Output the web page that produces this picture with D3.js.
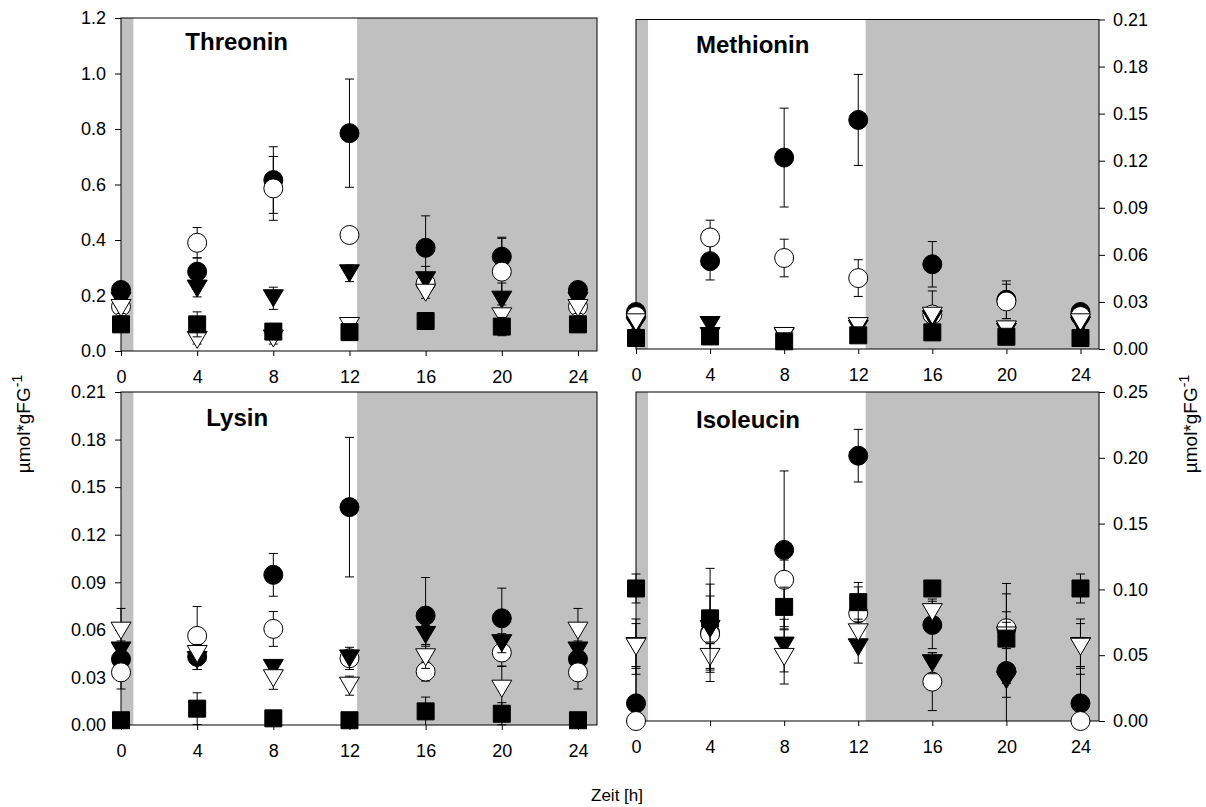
<!DOCTYPE html>
<html>
<head>
<meta charset="utf-8">
<script src="https://cdn.jsdelivr.net/npm/d3@7"></script>
<style>
  body { margin: 0; background: #fff; }
  svg text { font-family: "Liberation Sans", Arial, sans-serif; fill: #000; }
</style>
</head>
<body>
<svg id="chart" width="1206" height="807"></svg>
<script>
// Sampling times (h) and the dark phases of the light/dark cycle
const hours = [0, 4, 8, 12, 16, 20, 24];
const hourTicks = [0, 4, 8, 12, 16, 20, 24];
const darkPhases = [[0, 0.65], [12.4, 25]];

// Threonin (µmol*gFG-1): mean and standard deviation per series
const thrFilledCircle   = [0.220, 0.286, 0.616, 0.785, 0.372, 0.340, 0.220];
const thrFilledCircleSd = [0.025, 0.050, 0.120, 0.195, 0.115, 0.070, 0.025];
const thrOpenCircle     = [0.160, 0.390, 0.586, 0.418, 0.244, 0.286, 0.160];
const thrOpenCircleSd   = [0.020, 0.055, 0.115, 0.010, 0.030, 0.120, 0.020];
const thrFilledTri      = [0.180, 0.225, 0.190, 0.280, 0.255, 0.185, 0.180];
const thrFilledTriSd    = [0.020, 0.030, 0.040, 0.030, 0.050, 0.060, 0.020];
const thrOpenTri        = [0.155, 0.040, 0.045, 0.090, 0.210, 0.125, 0.155];
const thrOpenTriSd      = [0.020, 0.015, 0.020, 0.010, 0.020, 0.020, 0.020];
const thrSquare         = [0.096, 0.096, 0.070, 0.068, 0.108, 0.088, 0.096];
const thrSquareSd       = [0.010, 0.045, 0.010, 0.010, 0.010, 0.033, 0.010];
const thrTicks = [0, 0.2, 0.4, 0.6, 0.8, 1.0, 1.2];

// Methionin
const metFilledCircle   = [0.0236, 0.0560, 0.1220, 0.1460, 0.0540, 0.0314, 0.0236];
const metFilledCircleSd = [0.0030, 0.0120, 0.0315, 0.0290, 0.0145, 0.0120, 0.0030];
const metOpenCircle     = [0.0210, 0.0711, 0.0580, 0.0452, 0.0220, 0.0303, 0.0210];
const metOpenCircleSd   = [0.0030, 0.0110, 0.0120, 0.0117, 0.0150, 0.0110, 0.0030];
const metFilledTri      = [0.0150, 0.0153, 0.0080, 0.0130, 0.0190, 0.0110, 0.0150];
const metFilledTriSd    = [0.0020, 0.0020, 0.0020, 0.0020, 0.0030, 0.0020, 0.0020];
const metOpenTri        = [0.0170, 0.0083, 0.0083, 0.0146, 0.0212, 0.0125, 0.0170];
const metOpenTriSd      = [0.0020, 0.0020, 0.0030, 0.0020, 0.0030, 0.0040, 0.0020];
const metSquare         = [0.0070, 0.0080, 0.0049, 0.0087, 0.0106, 0.0078, 0.0070];
const metSquareSd       = [0.0010, 0.0010, 0.0010, 0.0010, 0.0010, 0.0010, 0.0010];
const metTicks = [0, 0.03, 0.06, 0.09, 0.12, 0.15, 0.18, 0.21];

// Lysin
const lysFilledCircle   = [0.0415, 0.0430, 0.0947, 0.1374, 0.0690, 0.0673, 0.0415];
const lysFilledCircleSd = [0.0080, 0.0080, 0.0135, 0.0440, 0.0240, 0.0190, 0.0080];
const lysOpenCircle     = [0.0332, 0.0562, 0.0606, 0.0421, 0.0337, 0.0457, 0.0332];
const lysOpenCircleSd   = [0.0105, 0.0185, 0.0110, 0.0040, 0.0060, 0.0085, 0.0105];
const lysFilledTri      = [0.0470, 0.0410, 0.0360, 0.0420, 0.0568, 0.0516, 0.0470];
const lysFilledTriSd    = [0.0060, 0.0060, 0.0040, 0.0070, 0.0060, 0.0060, 0.0060];
const lysOpenTri        = [0.0595, 0.0448, 0.0295, 0.0248, 0.0427, 0.0229, 0.0595];
const lysOpenTriSd      = [0.0140, 0.0060, 0.0070, 0.0060, 0.0070, 0.0140, 0.0140];
const lysSquare         = [0.0030, 0.0103, 0.0042, 0.0030, 0.0086, 0.0071, 0.0030];
const lysSquareSd       = [0.0010, 0.0100, 0.0010, 0.0010, 0.0090, 0.0070, 0.0010];
const lysTicks = [0, 0.03, 0.06, 0.09, 0.12, 0.15, 0.18, 0.21];

// Isoleucin
const ileFilledCircle   = [0.0134, 0.0670, 0.1300, 0.2016, 0.0730, 0.0380, 0.0134];
const ileFilledCircleSd = [0.0280, 0.0370, 0.0600, 0.0200, 0.0180, 0.0450, 0.0280];
const ileOpenCircle     = [0.0000, 0.0660, 0.1073, 0.0819, 0.0299, 0.0705, 0.0000];
const ileOpenCircleSd   = [0.0000, 0.0290, 0.0150, 0.0200, 0.0220, 0.0340, 0.0000];
const ileFilledTri      = [0.0570, 0.0700, 0.0573, 0.0560, 0.0439, 0.0310, 0.0570];
const ileFilledTriSd    = [0.0170, 0.0100, 0.0200, 0.0120, 0.0080, 0.0130, 0.0170];
const ileOpenTri        = [0.0565, 0.0487, 0.0487, 0.0674, 0.0827, 0.0650, 0.0565];
const ileOpenTriSd      = [0.0210, 0.0100, 0.0206, 0.0100, 0.0100, 0.0100, 0.0210];
const ileSquare         = [0.1007, 0.0780, 0.0867, 0.0903, 0.1007, 0.0626, 0.1007];
const ileSquareSd       = [0.0110, 0.0380, 0.0150, 0.0150, 0.0050, 0.0340, 0.0110];
const ileTicks = [0, 0.05, 0.10, 0.15, 0.20, 0.25];

// Marker styles, in drawing order
const markerStyles = [
  { shape: "circle",   fill: "#000" },
  { shape: "circle",   fill: "#fff" },
  { shape: "triangle", fill: "#000" },
  { shape: "triangle", fill: "#fff" },
  { shape: "square",   fill: "#000" }
];

const panels = [
  { title: "Threonin", box: { left: 121, top: 18, right: 597, bottom: 351 },
    yMax: 1.2, yTicks: thrTicks, fmt: ".1f", yAxis: "left", titleHour: 3.38, titleDy: 32,
    series: [[thrFilledCircle, thrFilledCircleSd], [thrOpenCircle, thrOpenCircleSd],
             [thrFilledTri, thrFilledTriSd], [thrOpenTri, thrOpenTriSd], [thrSquare, thrSquareSd]] },
  { title: "Methionin", box: { left: 636, top: 19.5, right: 1099, bottom: 349 },
    yMax: 0.21, yTicks: metTicks, fmt: ".2f", yAxis: "right", titleHour: 3.24, titleDy: 33.5,
    series: [[metFilledCircle, metFilledCircleSd], [metOpenCircle, metOpenCircleSd],
             [metFilledTri, metFilledTriSd], [metOpenTri, metOpenTriSd], [metSquare, metSquareSd]] },
  { title: "Lysin", box: { left: 121, top: 392, right: 597, bottom: 725 },
    yMax: 0.21, yTicks: lysTicks, fmt: ".2f", yAxis: "left", titleHour: 4.48, titleDy: 34,
    series: [[lysFilledCircle, lysFilledCircleSd], [lysOpenCircle, lysOpenCircleSd],
             [lysFilledTri, lysFilledTriSd], [lysOpenTri, lysOpenTriSd], [lysSquare, lysSquareSd]] },
  { title: "Isoleucin", box: { left: 636, top: 392, right: 1099, bottom: 721 },
    yMax: 0.25, yTicks: ileTicks, fmt: ".2f", yAxis: "right", titleHour: 3.24, titleDy: 36,
    series: [[ileFilledCircle, ileFilledCircleSd], [ileOpenCircle, ileOpenCircleSd],
             [ileFilledTri, ileFilledTriSd], [ileOpenTri, ileOpenTriSd], [ileSquare, ileSquareSd]] }
];

const svg = d3.select("#chart");
const tickFont = 18;

// Marker outline around a centre point
function markerPath(shape) {
  if (shape === "circle") return d3.symbol(d3.symbolCircle, Math.PI * 9.5 * 9.5)();
  if (shape === "square") return "M-8.5,-8.5H8.5V8.5H-8.5Z";
  // downward-pointing triangle
  return "M-10,-8.5L10,-8.5L0,8.5Z";
}

panels.forEach(p => {
  const b = p.box;
  const x = d3.scaleLinear().domain([0, 25]).range([b.left, b.right]);
  const y = d3.scaleLinear().domain([0, p.yMax]).range([b.bottom, b.top]);
  const g = svg.append("g");

  // dark phases
  g.selectAll("rect.dark").data(darkPhases).join("rect")
    .attr("x", d => x(d[0])).attr("y", b.top)
    .attr("width", d => x(d[1]) - x(d[0])).attr("height", b.bottom - b.top)
    .attr("fill", "#c0c0c0");

  // frame
  g.append("rect").attr("x", b.left).attr("y", b.top)
    .attr("width", b.right - b.left).attr("height", b.bottom - b.top)
    .attr("fill", "none").attr("stroke", "#000").attr("stroke-width", 1);

  // x axis
  const xa = g.append("g").attr("transform", `translate(0,${b.bottom})`)
    .call(d3.axisBottom(x).tickValues(hourTicks).tickSize(5).tickSizeOuter(0).tickPadding(14).tickFormat(d3.format("d")));
  xa.select(".domain").remove();
  xa.selectAll("text").style("font-size", tickFont + "px");

  // y axis
  const fmt = d3.format(p.fmt);
  const axis = p.yAxis === "left"
    ? d3.axisLeft(y).tickPadding(9)
    : d3.axisRight(y).tickPadding(8);
  const ya = g.append("g")
    .attr("transform", `translate(${p.yAxis === "left" ? b.left : b.right},0)`)
    .call(axis.tickValues(p.yTicks).tickSize(6).tickSizeOuter(0).tickFormat(fmt));
  ya.select(".domain").remove();
  ya.selectAll("text").style("font-size", tickFont + "px");

  // panel title
  g.append("text").attr("x", x(p.titleHour)).attr("y", b.top + p.titleDy)
    .style("font-size", "24px").style("font-weight", "bold").text(p.title);

  // series: error bars first, then markers
  const clamp = v => Math.max(0, Math.min(p.yMax, v));
  p.series.forEach(([vals, sds], si) => {
    const st = markerStyles[si];
    const pts = hours.map((h, i) => ({ h, v: vals[i], sd: sds[i] }));
    const eb = g.append("g").attr("stroke", "#000").attr("stroke-width", 1);
    pts.filter(d => d.sd > 0).forEach(d => {
      const cx = x(d.h), y1 = y(clamp(d.v + d.sd)), y0 = y(clamp(d.v - d.sd));
      eb.append("line").attr("x1", cx).attr("x2", cx).attr("y1", y1).attr("y2", y0);
      if (d.v + d.sd <= p.yMax)
        eb.append("line").attr("x1", cx - 4.5).attr("x2", cx + 4.5).attr("y1", y1).attr("y2", y1);
      if (d.v - d.sd >= 0)
        eb.append("line").attr("x1", cx - 4.5).attr("x2", cx + 4.5).attr("y1", y0).attr("y2", y0);
    });
    g.append("g").selectAll("path").data(pts).join("path")
      .attr("d", markerPath(st.shape))
      .attr("transform", d => `translate(${x(d.h)},${y(d.v)})`)
      .attr("fill", st.fill).attr("stroke", "#000").attr("stroke-width", 1);
  });
});

// axis titles
function unitLabel(xPos, yPos) {
  const t = svg.append("text")
    .attr("transform", `translate(${xPos},${yPos}) rotate(-90)`)
    .attr("text-anchor", "middle").style("font-size", "19px");
  t.append("tspan").text("µmol*gFG");
  t.append("tspan").attr("dy", -8).style("font-size", "14px").text("-1");
}
unitLabel(30, 424);
unitLabel(1197, 424);

svg.append("text").attr("x", 617).attr("y", 801).attr("text-anchor", "middle")
  .style("font-size", "17px").text("Zeit [h]");
</script>
</body>
</html>
